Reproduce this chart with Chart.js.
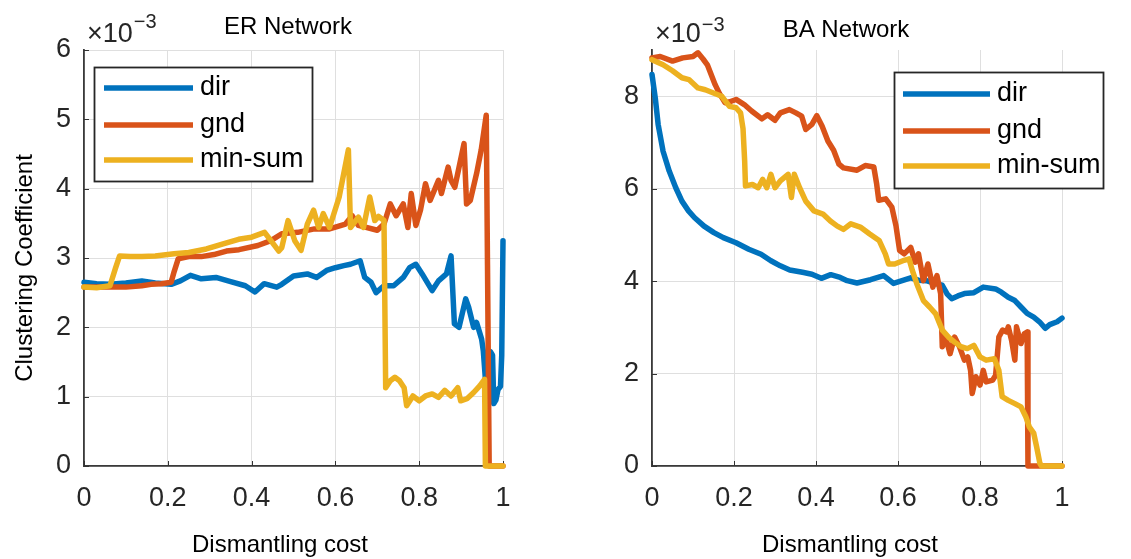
<!DOCTYPE html>
<html>
<head>
<meta charset="utf-8">
<script src="https://cdn.jsdelivr.net/npm/chart.js@4.4.1/dist/chart.umd.min.js"></script>
<style>
html,body{margin:0;padding:0;background:#fff;width:1131px;height:559px;overflow:hidden}
#wrap{position:relative;width:1131px;height:559px}
canvas{position:absolute;top:0}
</style>
</head>
<body>
<div id="wrap">
<canvas id="er" width="565" height="559" style="left:0"></canvas>
<canvas id="ba" width="566" height="559" style="left:565px"></canvas>
</div>
<script>
// ---------- Data (values in units of 1e-3) ----------
const seriesNames = ['dir', 'gnd', 'min-sum'];
const xTickLabels = ['0', '0.2', '0.4', '0.6', '0.8', '1'];
const erYTickLabels = ['0', '1', '2', '3', '4', '5', '6'];
const baYTickLabels = ['0', '2', '4', '6', '8'];

// ER network
const erDirX = [0, 0.03, 0.062, 0.1, 0.138, 0.17, 0.208, 0.23, 0.254, 0.28, 0.315, 0.35, 0.385, 0.408, 0.43, 0.46, 0.472, 0.5, 0.533, 0.555, 0.579, 0.6, 0.62, 0.636, 0.659, 0.67, 0.685, 0.697, 0.716, 0.739, 0.762, 0.777, 0.792, 0.807, 0.822, 0.831, 0.846, 0.865, 0.876, 0.884, 0.895, 0.911, 0.918, 0.93, 0.937, 0.949, 0.953, 0.958, 0.963, 0.97, 0.975, 0.978, 0.983, 0.988, 0.994, 0.997, 1.0];
const erDirY = [2.65, 2.63, 2.62, 2.64, 2.67, 2.64, 2.62, 2.67, 2.75, 2.7, 2.72, 2.66, 2.6, 2.51, 2.63, 2.58, 2.62, 2.74, 2.77, 2.72, 2.82, 2.86, 2.89, 2.91, 2.96, 2.72, 2.65, 2.5, 2.6, 2.6, 2.72, 2.86, 2.91, 2.77, 2.62, 2.53, 2.67, 2.77, 3.03, 2.05, 2.0, 2.41, 2.29, 2.0, 2.07, 1.83, 1.66, 1.25, 1.5, 1.65, 1.6, 0.9, 0.95, 1.1, 1.15, 1.6, 3.25];

const erGndX = [0, 0.062, 0.1, 0.138, 0.16, 0.185, 0.208, 0.215, 0.225, 0.25, 0.28, 0.31, 0.34, 0.37, 0.415, 0.446, 0.472, 0.51, 0.55, 0.586, 0.624, 0.64, 0.655, 0.7, 0.716, 0.731, 0.745, 0.762, 0.773, 0.781, 0.792, 0.803, 0.815, 0.826, 0.846, 0.853, 0.869, 0.876, 0.885, 0.907, 0.913, 0.922, 0.937, 0.948, 0.96, 0.963, 0.967, 1.0];
const erGndY = [2.58, 2.58, 2.58, 2.6, 2.62, 2.63, 2.65, 2.8, 2.99, 3.02, 3.02, 3.05, 3.1, 3.12, 3.18, 3.25, 3.35, 3.37, 3.42, 3.42, 3.49, 3.61, 3.47, 3.4, 3.49, 3.78, 3.61, 3.78, 3.44, 3.93, 3.47, 3.69, 4.07, 3.83, 4.12, 3.93, 4.31, 4.12, 4.02, 4.65, 3.78, 3.83, 4.22, 4.56, 5.06, 2.9, 0, 0];

const erMsX = [0, 0.03, 0.062, 0.075, 0.085, 0.11, 0.138, 0.17, 0.215, 0.25, 0.292, 0.33, 0.369, 0.4, 0.431, 0.446, 0.465, 0.472, 0.487, 0.503, 0.518, 0.533, 0.548, 0.56, 0.571, 0.586, 0.609, 0.631, 0.636, 0.655, 0.667, 0.682, 0.694, 0.703, 0.716, 0.72, 0.731, 0.742, 0.753, 0.764, 0.77, 0.785, 0.8, 0.815, 0.831, 0.846, 0.861, 0.876, 0.892, 0.899, 0.914, 0.93, 0.945, 0.956, 0.958, 1.0];
const erMsY = [2.58, 2.57, 2.6, 2.85, 3.03, 3.02, 3.02, 3.03, 3.06, 3.08, 3.13, 3.2, 3.27, 3.3, 3.37, 3.25, 3.1, 3.15, 3.54, 3.25, 3.11, 3.49, 3.69, 3.44, 3.64, 3.44, 3.88, 4.56, 3.44, 3.59, 3.44, 3.88, 3.54, 3.6, 3.54, 1.13, 1.23, 1.28, 1.23, 1.13, 0.87, 1.01, 0.94, 1.01, 1.04, 0.99, 1.09, 1.01, 1.13, 0.94, 0.97, 1.06, 1.16, 1.25, 0, 0];

// BA network
const baDirX = [0, 0.008, 0.015, 0.027, 0.042, 0.058, 0.073, 0.089, 0.104, 0.127, 0.151, 0.174, 0.205, 0.236, 0.266, 0.29, 0.313, 0.336, 0.367, 0.39, 0.413, 0.436, 0.459, 0.476, 0.5, 0.533, 0.565, 0.589, 0.61, 0.631, 0.65, 0.669, 0.69, 0.708, 0.72, 0.731, 0.746, 0.762, 0.785, 0.808, 0.838, 0.852, 0.869, 0.885, 0.9, 0.915, 0.931, 0.945, 0.959, 0.97, 0.988, 1.0];
const baDirY = [8.47, 7.96, 7.39, 6.81, 6.38, 6.02, 5.73, 5.52, 5.37, 5.19, 5.05, 4.94, 4.83, 4.69, 4.58, 4.44, 4.33, 4.24, 4.19, 4.15, 4.06, 4.14, 4.08, 4.01, 3.96, 4.03, 4.12, 3.95, 4.01, 4.07, 4.02, 4.01, 3.95, 3.91, 3.72, 3.62, 3.68, 3.73, 3.75, 3.87, 3.83, 3.76, 3.65, 3.58, 3.44, 3.3, 3.22, 3.12, 2.98, 3.06, 3.12, 3.2];

const baGndX = [0, 0.02, 0.05, 0.075, 0.1, 0.112, 0.125, 0.135, 0.154, 0.165, 0.178, 0.19, 0.205, 0.225, 0.243, 0.268, 0.282, 0.3, 0.313, 0.335, 0.351, 0.365, 0.375, 0.39, 0.402, 0.415, 0.429, 0.443, 0.456, 0.467, 0.5, 0.52, 0.541, 0.548, 0.553, 0.57, 0.585, 0.595, 0.604, 0.615, 0.631, 0.642, 0.65, 0.662, 0.673, 0.685, 0.695, 0.704, 0.708, 0.716, 0.727, 0.738, 0.75, 0.762, 0.77, 0.777, 0.781, 0.79, 0.8, 0.808, 0.815, 0.831, 0.838, 0.846, 0.855, 0.865, 0.869, 0.877, 0.885, 0.889, 0.9, 0.908, 0.915, 0.917, 1.0];
const baGndY = [8.83, 8.86, 8.76, 8.83, 8.86, 8.94, 8.8, 8.68, 8.25, 8.05, 7.86, 7.88, 7.93, 7.82, 7.68, 7.51, 7.6, 7.48, 7.64, 7.71, 7.64, 7.57, 7.28, 7.39, 7.58, 7.35, 7.03, 6.83, 6.53, 6.45, 6.4, 6.5, 6.47, 6.1, 5.75, 5.78, 5.6, 5.2, 4.66, 4.59, 4.73, 4.41, 4.59, 4.01, 4.37, 3.87, 4.12, 3.73, 2.58, 2.79, 2.43, 2.79, 2.58, 2.29, 2.36, 2.07, 1.57, 1.93, 1.75, 2.07, 1.82, 1.86, 1.96, 2.79, 2.94, 2.9, 3.01, 2.72, 2.29, 3.01, 2.65, 2.86, 2.9, 0, 0];

const baMsX = [0, 0.027, 0.05, 0.073, 0.09, 0.112, 0.13, 0.15, 0.17, 0.189, 0.205, 0.216, 0.222, 0.226, 0.228, 0.245, 0.259, 0.27, 0.28, 0.29, 0.3, 0.313, 0.332, 0.34, 0.347, 0.36, 0.375, 0.395, 0.417, 0.435, 0.452, 0.467, 0.485, 0.508, 0.531, 0.554, 0.569, 0.577, 0.592, 0.615, 0.627, 0.635, 0.646, 0.662, 0.677, 0.692, 0.708, 0.723, 0.738, 0.754, 0.769, 0.785, 0.8, 0.815, 0.835, 0.846, 0.854, 0.869, 0.885, 0.9, 0.912, 0.92, 0.931, 0.938, 0.946, 0.95, 1.0];
const baMsY = [8.79, 8.68, 8.55, 8.4, 8.36, 8.18, 8.14, 8.07, 8.0, 7.78, 7.75, 7.64, 7.3, 6.6, 6.06, 6.09, 6.02, 6.2, 6.02, 6.31, 6.02, 6.17, 6.31, 5.81, 6.31, 6.02, 5.73, 5.52, 5.45, 5.3, 5.19, 5.12, 5.24, 5.17, 5.02, 4.88, 4.59, 4.37, 4.37, 4.45, 4.48, 4.23, 3.94, 3.58, 3.44, 3.29, 2.94, 2.79, 2.68, 2.58, 2.54, 2.61, 2.36, 2.29, 2.32, 2.07, 1.5, 1.42, 1.35, 1.28, 1.06, 0.85, 0.71, 0.42, 0.06, 0, 0];

// ---------- Styling ----------
const COLORS = ['#0072BD', '#D95319', '#EDB120'];
const FONT = '"Liberation Sans", Arial, Helvetica, sans-serif';
Chart.defaults.font.family = FONT;
Chart.defaults.color = '#262626';

function pts(xs, ys) { return xs.map((x, i) => ({ x: x, y: ys[i] })); }

function makeDatasets(seriesList) {
  return seriesList.map((s, i) => ({
    label: seriesNames[i],
    data: pts(s[0], s[1]),
    borderColor: COLORS[i],
    backgroundColor: COLORS[i],
    borderWidth: 5.5,
    pointRadius: 0,
    tension: 0,
    fill: false,
    clip: false,
    borderJoinStyle: 'round',
    borderCapStyle: 'round',
    order: 3 - i
  }));
}

function annotPlugin(o) {
  return {
    id: 'annot',
    beforeDatasetsDraw(chart) {
      const ctx = chart.ctx, a = chart.chartArea, xs = chart.scales.x, ys = chart.scales.y;
      ctx.save();
      ctx.strokeStyle = '#333';
      ctx.lineWidth = 1;
      xs.ticks.forEach(t => {
        const px = Math.round(xs.getPixelForValue(t.value)) + 0.5;
        ctx.beginPath(); ctx.moveTo(px, a.bottom); ctx.lineTo(px, a.bottom - 5); ctx.stroke();
      });
      ys.ticks.forEach(t => {
        const py = Math.round(ys.getPixelForValue(t.value)) + 0.5;
        ctx.beginPath(); ctx.moveTo(a.left, py); ctx.lineTo(a.left + 5, py); ctx.stroke();
      });
      ctx.restore();
    },
    afterDraw(chart) {
      const ctx = chart.ctx;
      ctx.save();
      ctx.fillStyle = '#000';
      ctx.textAlign = 'center';
      ctx.textBaseline = 'alphabetic';
      ctx.font = '24px ' + FONT;
      ctx.fillText(o.title, o.titleX, o.titleY);
      ctx.fillText('Dismantling cost', o.xlabX, o.xlabY);
      if (o.ylab) {
        ctx.save();
        ctx.translate(o.ylabX, o.ylabY);
        ctx.rotate(-Math.PI / 2);
        ctx.fillText(o.ylab, 0, 0);
        ctx.restore();
      }
      // exponent label
      ctx.textAlign = 'left';
      ctx.fillStyle = '#262626';
      ctx.font = '27px ' + FONT;
      ctx.fillText('\u00d710', o.mulX, o.mulY);
      const w = ctx.measureText('\u00d710').width;
      ctx.font = '20px ' + FONT;
      ctx.fillText('\u22123', o.mulX + w + 1, o.supY);
      // legend
      const L = o.legend;
      ctx.fillStyle = '#fff';
      ctx.fillRect(L.x, L.y, L.w, L.h);
      ctx.strokeStyle = '#262626';
      ctx.lineWidth = 1.8;
      ctx.strokeRect(L.x + 0.5, L.y + 0.5, L.w, L.h);
      chart.data.datasets.forEach((ds, i) => {
        const yy = L.rows[i];
        ctx.strokeStyle = ds.borderColor;
        ctx.lineWidth = 5.5;
        ctx.lineCap = 'butt';
        ctx.beginPath(); ctx.moveTo(L.lx0, yy); ctx.lineTo(L.lx1, yy); ctx.stroke();
        ctx.fillStyle = '#000';
        ctx.font = '27px ' + FONT;
        ctx.textBaseline = 'middle';
        ctx.fillText(ds.label, L.tx, yy);
      });
      ctx.restore();
    }
  };
}

function makeChart(id, datasets, yMax, yStep, yLabels, yWidth, padRight, annot) {
  return new Chart(document.getElementById(id), {
    type: 'line',
    data: { datasets: datasets },
    options: {
      responsive: false,
      animation: false,
      devicePixelRatio: 1,
      layout: { padding: { left: 0, top: 50, right: padRight, bottom: 0 } },
      plugins: { legend: { display: false }, tooltip: { enabled: false }, title: { display: false } },
      scales: {
        x: {
          type: 'linear', min: 0, max: 1,
          ticks: {
            stepSize: 0.2, padding: 16, maxRotation: 0, autoSkip: false,
            font: { size: 27 }, color: '#262626',
            callback: v => xTickLabels[Math.round(v / 0.2)]
          },
          grid: { color: '#dfdfdf', lineWidth: 1, drawTicks: false },
          border: { display: true, color: '#3a3a3a', width: 1.8 },
          afterFit: s => { s.height = 93; }
        },
        y: {
          type: 'linear', min: 0, max: yMax,
          ticks: {
            stepSize: yStep, padding: 13, autoSkip: false,
            font: { size: 27 }, color: '#262626',
            callback: v => yLabels[Math.round(v / yStep)]
          },
          afterBuildTicks: s => { s.ticks = s.ticks.filter(t => Math.abs(t.value / yStep - Math.round(t.value / yStep)) < 1e-6); },
          grid: { color: '#dfdfdf', lineWidth: 1, drawTicks: false },
          border: { display: true, color: '#3a3a3a', width: 1.8 },
          afterFit: s => { s.width = yWidth; }
        }
      }
    },
    plugins: [annotPlugin(annot)]
  });
}

makeChart('er',
  makeDatasets([[erDirX, erDirY], [erGndX, erGndY], [erMsX, erMsY]]),
  6, 1, erYTickLabels, 84, 62,
  {
    title: 'ER Network', titleX: 288, titleY: 34,
    xlabX: 280, xlabY: 552,
    ylab: 'Clustering Coefficient', ylabX: 32, ylabY: 268,
    mulX: 87, mulY: 42, supY: 28,
    legend: { x: 94, y: 67, w: 218, h: 114, rows: [88, 125, 160], lx0: 104, lx1: 193, tx: 200 }
  });

makeChart('ba',
  makeDatasets([[baDirX, baDirY], [baGndX, baGndY], [baMsX, baMsY]]),
  9, 2, baYTickLabels, 87, 69,
  {
    title: 'BA Network', titleX: 281, titleY: 37,
    xlabX: 285, xlabY: 552,
    ylab: null,
    mulX: 90, mulY: 42, supY: 31,
    legend: { x: 329, y: 72, w: 209, h: 116, rows: [94, 131, 166], lx0: 338, lx1: 425, tx: 432 }
  });
</script>
</body>
</html>
